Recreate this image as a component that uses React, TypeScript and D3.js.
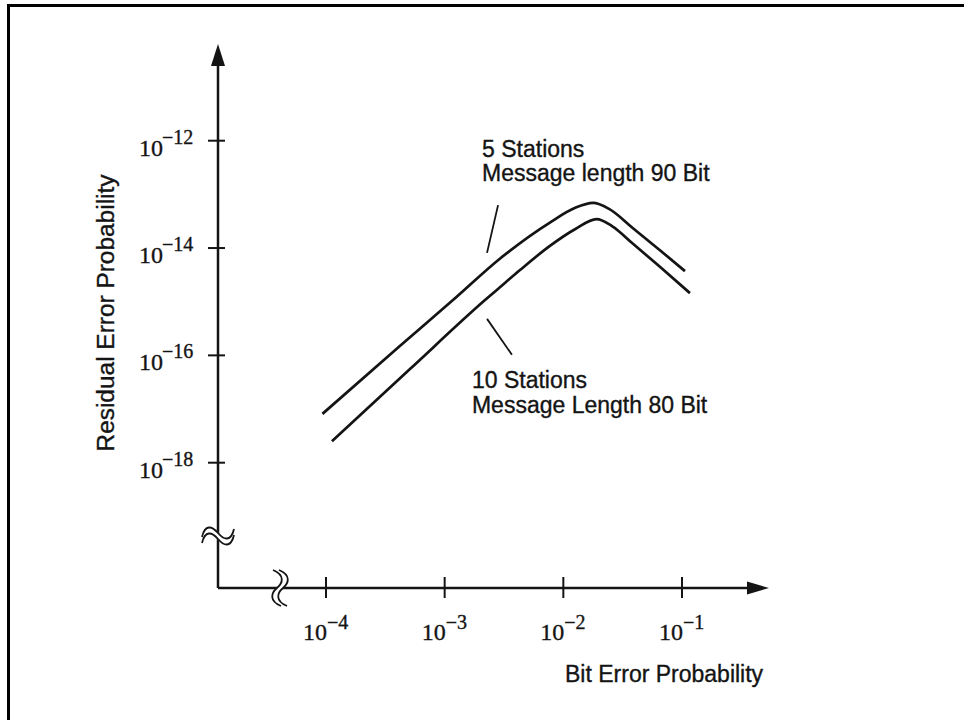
import React from "react";
import * as d3 from "d3";

// values, as log10 exponents
const xTicks = [-4, -3, -2, -1];
const yTicks = [-12, -14, -16, -18];

// 5 Stations, message length 90 bit
const upperBer = [-4.03, -3.38, -2.93, -2.53, -2.11, -1.9, -1.75, -1.615, -1.413, -1.186, -0.975];
const upperRes = [-17.09, -15.83, -14.97, -14.19, -13.52, -13.25, -13.16, -13.27, -13.63, -14.04, -14.43];

// 10 Stations, message length 80 bit
const lowerBer = [-3.95, -3.29, -2.66, -2.534, -2.365, -2.113, -1.902, -1.72, -1.59, -1.413, -1.186, -0.933];
const lowerRes = [-17.6, -16.25, -14.97, -14.73, -14.41, -13.96, -13.65, -13.46, -13.59, -13.92, -14.35, -14.84];

const upperLabel = ["5 Stations", "Message length 90 Bit"];
const lowerLabel = ["10 Stations", "Message Length 80 Bit"];

const W = 964;
const H = 720;
const originX = 218;
const originY = 588;
const sans = "'Liberation Sans', Arial, Helvetica, sans-serif";
const serif = "'Liberation Serif', 'Times New Roman', serif";
const ink = "#141414";

const x = d3.scaleLog().domain([1e-4, 1e-1]).range([326, 682]);
const y = d3.scaleLog().domain([1e-12, 1e-18]).range([140.7, 462.7]);
const px = (e: number) => x(Math.pow(10, e));
const py = (e: number) => y(Math.pow(10, e));

const curve = d3
  .line<[number, number]>()
  .x((d) => px(d[0]))
  .y((d) => py(d[1]))
  .curve(d3.curveMonotoneX);

const upper = upperBer.map((v, i) => [v, upperRes[i]] as [number, number]);
const lower = lowerBer.map((v, i) => [v, lowerRes[i]] as [number, number]);

const yWave = "M-16,4 C-13,-9 -6,-7 0,0 C6,7 13,9 16,-4";
const xWave = "M-4,-18 C8,-13 6,-5 0,0 C-6,5 -8,13 4,18";

// scanned text looks a little heavier than plain glyphs
const heavy = { stroke: ink, strokeWidth: 0.35 };

export default function App() {
  return (
    <svg
      width={W}
      height={H}
      style={{ position: "absolute", left: 0, top: 0, background: "#fff" }}
    >
      <rect x={8.5} y={5.5} width={1200} height={1200} fill="none" stroke="#000" strokeWidth={3} />

      {/* axes */}
      <line x1={originX} y1={originY} x2={originX} y2={60} stroke={ink} strokeWidth={2.5} />
      <path d={`M${originX},44 L${originX - 7},66 L${originX + 7},66 Z`} fill={ink} />
      <line x1={originX} y1={originY} x2={752} y2={originY} stroke={ink} strokeWidth={2.5} />
      <path d={`M769,${originY} L747,${originY - 6.5} L747,${originY + 6.5} Z`} fill={ink} />

      {/* axis breaks */}
      <g transform={`translate(${originX},536)`} fill="none">
        <path d={yWave} stroke="#fff" strokeWidth={5} />
        <path d={yWave} transform="translate(0,-3)" stroke={ink} strokeWidth={1.8} />
        <path d={yWave} transform="translate(0,3)" stroke={ink} strokeWidth={1.8} />
      </g>
      <g transform={`translate(280,${originY})`} fill="none">
        <path d={xWave} stroke="#fff" strokeWidth={5} />
        <path d={xWave} transform="translate(-3,0)" stroke={ink} strokeWidth={1.8} />
        <path d={xWave} transform="translate(3,0)" stroke={ink} strokeWidth={1.8} />
      </g>

      {/* y ticks */}
      {yTicks.map((t) => (
        <g key={t}>
          <line x1={originX - 10} x2={originX + 7} y1={py(t)} y2={py(t)} stroke={ink} strokeWidth={2} />
          <text x={originX - 79} y={py(t) + 15} fontFamily={serif} fontSize={24} fill={ink} {...heavy}>
            10
          </text>
          <text x={originX - 56} y={py(t) + 3} fontFamily={serif} fontSize={20} fill={ink} {...heavy}>
            {"\u2212" + Math.abs(t)}
          </text>
        </g>
      ))}

      {/* x ticks */}
      {xTicks.map((t) => (
        <g key={t}>
          <line x1={px(t)} x2={px(t)} y1={originY - 11} y2={originY + 10} stroke={ink} strokeWidth={2} />
          <text x={px(t) + 1} y={originY + 52} textAnchor="end" fontFamily={serif} fontSize={24} fill={ink} {...heavy}>
            10
          </text>
          <text x={px(t) + 1} y={originY + 41} fontFamily={serif} fontSize={20} fill={ink} {...heavy}>
            {"\u2212" + Math.abs(t)}
          </text>
        </g>
      ))}

      {/* axis titles */}
      <text
        transform="translate(114,313) rotate(-90)"
        textAnchor="middle"
        fontFamily={sans}
        fontSize={23.5}
        textLength={277}
        lengthAdjust="spacingAndGlyphs"
        fill={ink}
        {...heavy}
      >
        Residual Error Probability
      </text>
      <text x={565} y={682} fontFamily={sans} fontSize={23} fill={ink} {...heavy}>
        Bit Error Probability
      </text>

      {/* curves */}
      <path d={curve(upper) ?? ""} fill="none" stroke={ink} strokeWidth={2.7} strokeLinejoin="round" />
      <path d={curve(lower) ?? ""} fill="none" stroke={ink} strokeWidth={2.7} strokeLinejoin="round" />

      {/* annotations */}
      <line x1={px(-2.55)} y1={py(-13.2)} x2={px(-2.643)} y2={py(-14.09)} stroke={ink} strokeWidth={1.8} />
      <line x1={px(-2.643)} y1={py(-15.32)} x2={px(-2.433)} y2={py(-15.99)} stroke={ink} strokeWidth={1.8} />
      {upperLabel.map((s, i) => (
        <text key={s} x={px(-2.685)} y={py(-12.3) + i * 24} fontFamily={sans} fontSize={23} fill={ink} {...heavy}>
          {s}
        </text>
      ))}
      {lowerLabel.map((s, i) => (
        <text key={s} x={px(-2.77)} y={py(-16.61) + i * 25} fontFamily={sans} fontSize={23} fill={ink} {...heavy}>
          {s}
        </text>
      ))}
    </svg>
  );
}
